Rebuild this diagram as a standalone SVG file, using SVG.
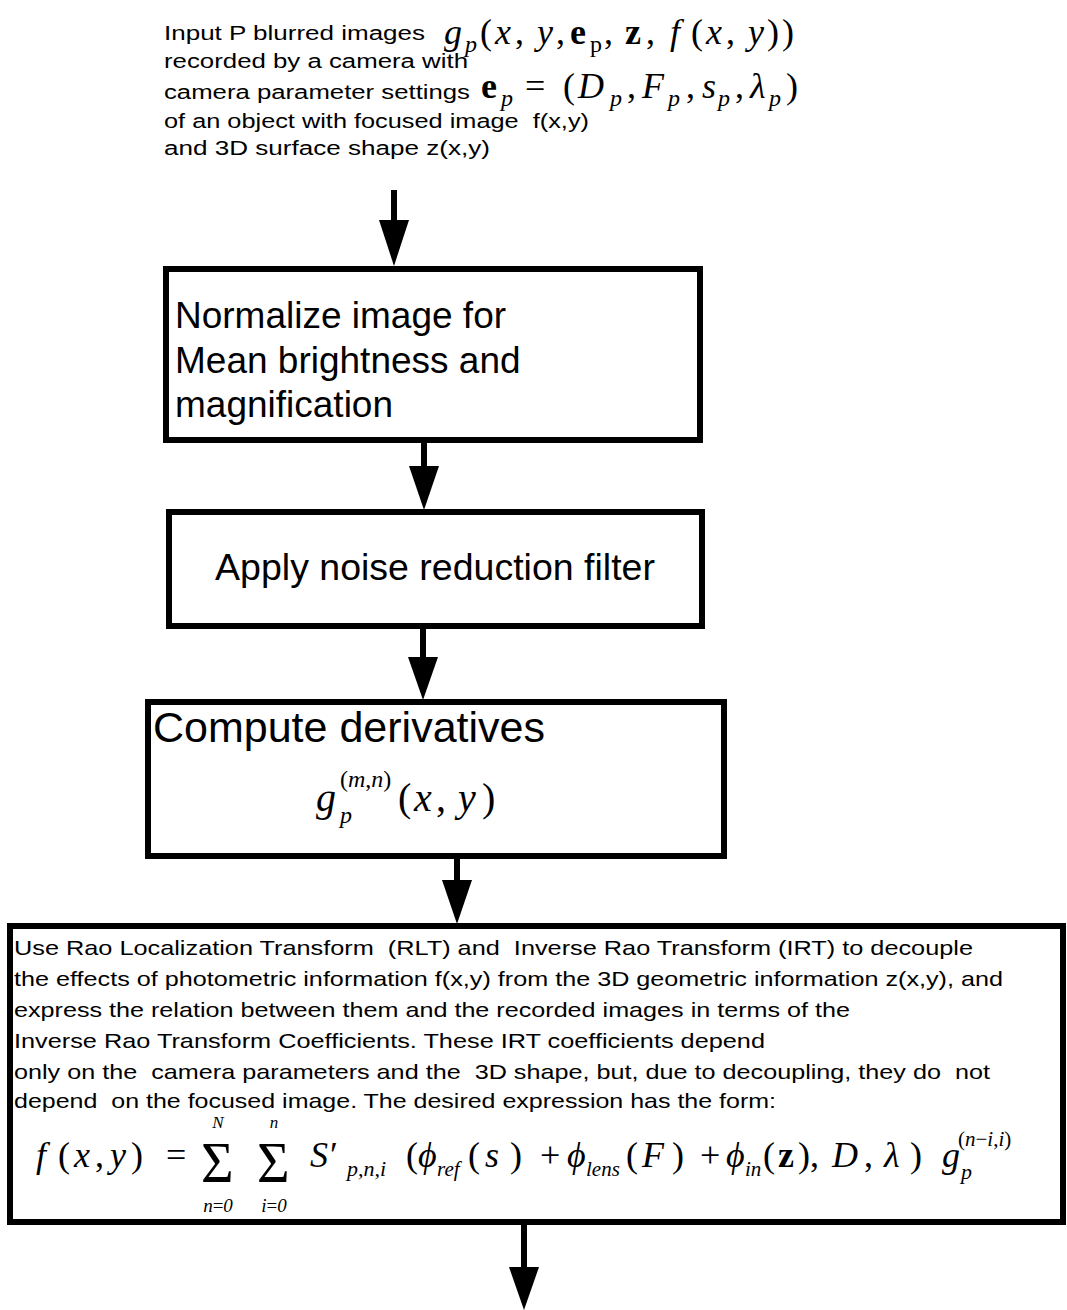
<svg xmlns="http://www.w3.org/2000/svg" width="1067" height="1310" viewBox="0 0 1067 1310">
<style>
.bg{fill:#fff}
.box{fill:#fff;stroke:#000;stroke-width:6}
.sans{font-family:"Liberation Sans",Arial,sans-serif;fill:#000;white-space:pre}
.m{font-family:"Liberation Serif","Times New Roman","DejaVu Serif",serif;font-style:italic;fill:#000;white-space:pre}
.up{font-style:normal}
.b{font-weight:bold;font-style:normal}
.shaft{stroke:#000;stroke-width:6;fill:none}
.head{fill:#000}
</style>
<rect class="bg" x="0" y="0" width="1067" height="1310"/>

<g id="input">
  <text class="sans" font-size="20" x="164" y="40" textLength="261" lengthAdjust="spacingAndGlyphs">Input P blurred images</text>
  <text class="sans" font-size="20" x="164" y="68" textLength="304" lengthAdjust="spacingAndGlyphs">recorded by a camera with</text>
  <text class="sans" font-size="20" x="164" y="99" textLength="306" lengthAdjust="spacingAndGlyphs">camera parameter settings</text>
  <text class="sans" font-size="20" x="164" y="128" textLength="425" lengthAdjust="spacingAndGlyphs">of an object with focused image  f(x,y)</text>
  <text class="sans" font-size="20" x="164" y="155" textLength="326" lengthAdjust="spacingAndGlyphs">and 3D surface shape z(x,y)</text>
  <text class="m" font-size="36" y="44"><tspan x="444">g</tspan><tspan x="465" dy="8" font-size="24">p</tspan><tspan x="480" dy="-8" class="up">(</tspan><tspan x="495">x</tspan><tspan x="515" class="up">,</tspan><tspan x="537">y</tspan><tspan x="556" class="up">,</tspan><tspan x="570" class="b">e</tspan><tspan x="590" dy="8" font-size="24" class="up">p</tspan><tspan x="604" dy="-8" class="up">,</tspan><tspan x="625" class="b">z</tspan><tspan x="646" class="up">,</tspan><tspan x="670">f</tspan><tspan x="691" class="up">(</tspan><tspan x="706">x</tspan><tspan x="726" class="up">,</tspan><tspan x="748">y</tspan><tspan x="767" class="up">)</tspan><tspan x="782" class="up">)</tspan></text>
  <text class="m" font-size="36" y="98"><tspan x="481" class="b">e</tspan><tspan x="501" dy="8" font-size="24">p</tspan><tspan x="525" dy="-8" class="up">=</tspan><tspan x="563" class="up">(</tspan><tspan x="578">D</tspan><tspan x="610" dy="8" font-size="24">p</tspan><tspan x="627" dy="-8" class="up">,</tspan><tspan x="642">F</tspan><tspan x="668" dy="8" font-size="24">p</tspan><tspan x="686" dy="-8" class="up">,</tspan><tspan x="702">s</tspan><tspan x="718" dy="8" font-size="24">p</tspan><tspan x="735" dy="-8" class="up">,</tspan><tspan x="750">λ</tspan><tspan x="769" dy="8" font-size="24">p</tspan><tspan x="786" dy="-8" class="up">)</tspan></text>
</g>

<g id="normalize">
  <rect class="box" x="166" y="269" width="534" height="171"/>
  <text class="sans" font-size="37" x="175" y="328">Normalize image for</text>
  <text class="sans" font-size="37" x="175" y="373">Mean brightness and</text>
  <text class="sans" font-size="37" x="175" y="417">magnification</text>
</g>

<g id="noise">
  <rect class="box" x="169" y="512" width="533" height="114"/>
  <text class="sans" font-size="37.5" x="435" y="580" text-anchor="middle">Apply noise reduction filter</text>
</g>

<g id="derivatives">
  <rect class="box" x="148" y="702" width="576" height="154"/>
  <text class="sans" font-size="43" x="153" y="742">Compute derivatives</text>
  <text class="m" font-size="40" y="811"><tspan x="316">g</tspan><tspan x="340" dy="12" font-size="24">p</tspan><tspan x="340" dy="-36" font-size="24" class="up">(</tspan><tspan font-size="24">m</tspan><tspan font-size="24" class="up">,</tspan><tspan font-size="24">n</tspan><tspan font-size="24" class="up">)</tspan><tspan x="398" dy="24" class="up">(</tspan><tspan x="414">x</tspan><tspan x="436" class="up">,</tspan><tspan x="458">y</tspan><tspan x="482" class="up">)</tspan></text>
</g>

<g id="decouple">
  <rect class="box" x="10" y="926" width="1053" height="296"/>
  <text class="sans" font-size="21" x="14" y="955" textLength="959" lengthAdjust="spacingAndGlyphs">Use Rao Localization Transform  (RLT) and  Inverse Rao Transform (IRT) to decouple</text>
  <text class="sans" font-size="21" x="14" y="986" textLength="989" lengthAdjust="spacingAndGlyphs">the effects of photometric information f(x,y) from the 3D geometric information z(x,y), and</text>
  <text class="sans" font-size="21" x="14" y="1017" textLength="836" lengthAdjust="spacingAndGlyphs">express the relation between them and the recorded images in terms of the</text>
  <text class="sans" font-size="21" x="14" y="1048" textLength="751" lengthAdjust="spacingAndGlyphs">Inverse Rao Transform Coefficients. These IRT coefficients depend</text>
  <text class="sans" font-size="21" x="14" y="1079" textLength="976" lengthAdjust="spacingAndGlyphs">only on the  camera parameters and the  3D shape, but, due to decoupling, they do  not</text>
  <text class="sans" font-size="21" x="14" y="1108" textLength="762" lengthAdjust="spacingAndGlyphs">depend  on the focused image. The desired expression has the form:</text>
  <text class="m" font-size="36" y="1167"><tspan x="36">f</tspan><tspan x="58" class="up">(</tspan><tspan x="74">x</tspan><tspan x="95" class="up">,</tspan><tspan x="110">y</tspan><tspan x="131" class="up">)</tspan><tspan x="166" class="up">=</tspan><tspan x="310">S</tspan><tspan x="330" class="up">′</tspan><tspan x="347" dy="9" font-size="22">p,n,i</tspan><tspan x="406" dy="-9" class="up">(</tspan><tspan x="418">ϕ</tspan><tspan x="437" dy="9" font-size="21">ref</tspan><tspan x="468" dy="-9" class="up">(</tspan><tspan x="485">s</tspan><tspan x="510" class="up">)</tspan><tspan x="540" class="up">+</tspan><tspan x="567">ϕ</tspan><tspan x="586" dy="9" font-size="21">lens</tspan><tspan x="626" dy="-9" class="up">(</tspan><tspan x="642">F</tspan><tspan x="672" class="up">)</tspan><tspan x="700" class="up">+</tspan><tspan x="726">ϕ</tspan><tspan x="745" dy="9" font-size="21">in</tspan><tspan x="763" dy="-9" class="up">(</tspan><tspan x="778" class="b">z</tspan><tspan x="798" class="up">),</tspan><tspan x="832">D</tspan><tspan x="864" class="up">,</tspan><tspan x="884">λ</tspan><tspan x="910" class="up">)</tspan><tspan x="942">g</tspan><tspan x="961" dy="12" font-size="22">p</tspan><tspan x="958" dy="-33" font-size="21" class="up">(</tspan><tspan font-size="21">n</tspan><tspan font-size="21" class="up">−</tspan><tspan font-size="21">i</tspan><tspan font-size="21" class="up">,</tspan><tspan font-size="21">i</tspan><tspan font-size="21" class="up">)</tspan></text>
  <text class="m up" font-size="56" x="201" y="1182">Σ</text>
  <text class="m up" font-size="56" x="257" y="1182">Σ</text>
  <text class="m" font-size="17" x="218" y="1128" text-anchor="middle">N</text>
  <text class="m" font-size="17" x="274" y="1128" text-anchor="middle">n</text>
  <text class="m" font-size="19" x="218" y="1212" text-anchor="middle">n<tspan class="up">=</tspan>0</text>
  <text class="m" font-size="19" x="274" y="1212" text-anchor="middle">i<tspan class="up">=</tspan>0</text>
</g>

<g id="connectors">
  <line class="shaft" x1="394" y1="190" x2="394" y2="230"/>
  <polygon class="head" points="379,220 409,220 394,266"/>
  <line class="shaft" x1="424" y1="440" x2="424" y2="475"/>
  <polygon class="head" points="409,466 439,466 424,510"/>
  <line class="shaft" x1="423" y1="626" x2="423" y2="665"/>
  <polygon class="head" points="408,657 438,657 423,700"/>
  <line class="shaft" x1="457" y1="856" x2="457" y2="890"/>
  <polygon class="head" points="442,880 472,880 457,924"/>
  <line class="shaft" x1="524" y1="1222" x2="524" y2="1275"/>
  <polygon class="head" points="509,1267 539,1267 524,1310"/>
</g>
</svg>
